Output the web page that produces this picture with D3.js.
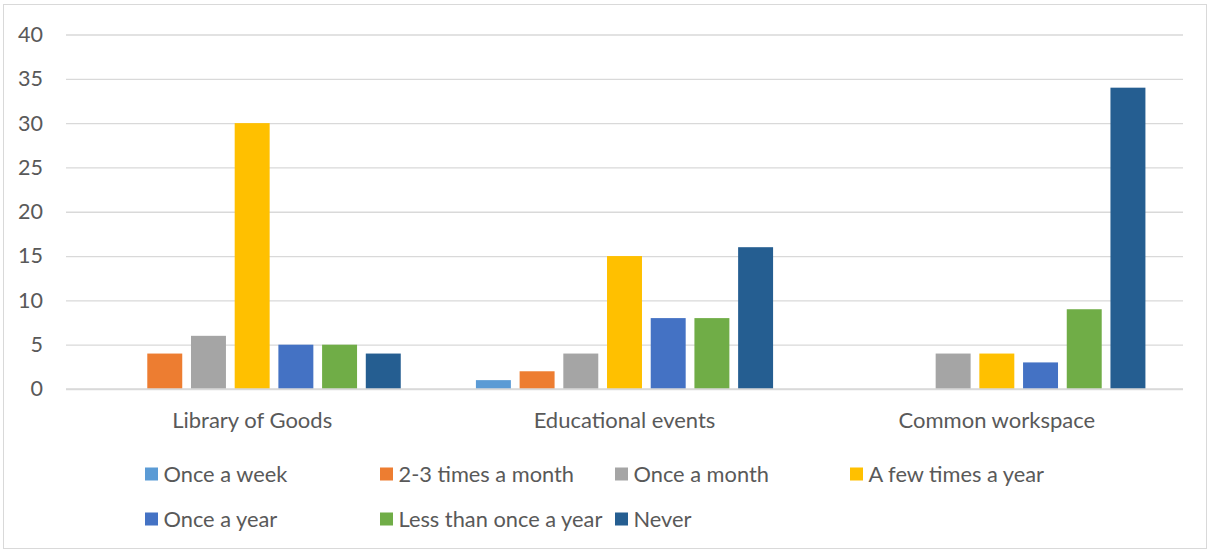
<!DOCTYPE html>
<html>
<head>
<meta charset="utf-8">
<script src="https://cdn.jsdelivr.net/npm/d3@7"></script>
<style>
  html, body { margin: 0; padding: 0; background: #fff; }
  svg { display: block; font-family: Lato, "Noto Sans", sans-serif; }
</style>
</head>
<body>
<svg id="chart" width="1212" height="552"></svg>
<script>
// Usage frequency per service
const categories = ["Library of Goods", "Educational events", "Common workspace"];
const seriesNames = ["Once a week", "2-3 times a month", "Once a month", "A few times a year",
                     "Once a year", "Less than once a year", "Never"];
const onceAWeek        = [0, 1, 0];
const twoThreeMonth    = [4, 2, 0];
const onceAMonth       = [6, 4, 4];
const fewTimesYear     = [30, 15, 4];
const onceAYear        = [5, 8, 3];
const lessThanOnceYear = [5, 8, 9];
const never            = [4, 16, 34];
const seriesValues = [onceAWeek, twoThreeMonth, onceAMonth, fewTimesYear, onceAYear, lessThanOnceYear, never];
const colors = ["#5B9BD5", "#ED7D31", "#A5A5A5", "#FFC000", "#4472C4", "#70AD47", "#255E91"];
const yTicks = [0, 5, 10, 15, 20, 25, 30, 35, 40];

const svg = d3.select("#chart");
const plot = { left: 66, right: 1183, top: 34.5, bottom: 389 };
const textColor = "#595959";
const gridColor = "#D9D9D9";

// chart border
svg.append("rect")
  .attr("x", 3.5).attr("y", 4.5)
  .attr("width", 1203).attr("height", 544)
  .attr("fill", "#fff")
  .attr("stroke", gridColor).attr("stroke-width", 1);

const y = d3.scaleLinear().domain([0, 40]).range([plot.bottom, plot.top]);
const x0 = d3.scaleBand().domain(categories).range([plot.left, plot.right]).padding(0);
const x1 = d3.scaleBand().domain(seriesNames).range([0, x0.bandwidth()])
  .paddingInner(0.2).paddingOuter(0.86);

// gridlines + tick labels
const yAxis = d3.axisLeft(y).tickValues(yTicks).tickSize(-(plot.right - plot.left)).tickPadding(23);
const yg = svg.append("g").attr("transform", `translate(${plot.left},0)`).call(yAxis);
yg.select(".domain").remove();
yg.selectAll(".tick line").attr("stroke", gridColor).attr("stroke-width", 1.3);
yg.selectAll(".tick text")
  .attr("fill", textColor)
  .style("font-size", "21.5px")
  .style("font-family", "Lato, sans-serif");

// bars
const groups = svg.append("g").selectAll("g")
  .data(categories)
  .join("g")
  .attr("transform", d => `translate(${x0(d)},0)`);

groups.selectAll("rect")
  .data((c, ci) => seriesNames.map((s, si) => ({ s, si, v: seriesValues[si][ci] })))
  .join("rect")
  .attr("x", d => x1(d.s))
  .attr("width", x1.bandwidth())
  .attr("y", d => y(d.v))
  .attr("height", d => y(0) - y(d.v))
  .attr("fill", d => colors[d.si]);

// baseline
svg.append("line")
  .attr("x1", plot.left).attr("x2", plot.right)
  .attr("y1", y(0)).attr("y2", y(0))
  .attr("stroke", gridColor).attr("stroke-width", 1.5);

// category axis labels
const xAxis = d3.axisBottom(x0).tickSize(0).tickPadding(23);
const xg = svg.append("g").attr("transform", `translate(0,${plot.bottom})`).call(xAxis);
xg.select(".domain").remove();
xg.selectAll(".tick text")
  .attr("fill", textColor)
  .style("font-size", "22px")
  .style("font-family", "Lato, sans-serif");

// legend: 4 columns, 2 rows
const legendCols = 4, colW = 235, legendX = 145, legendY = [474, 519];
const leg = svg.append("g").selectAll("g")
  .data(seriesNames)
  .join("g")
  .attr("transform", (d, i) => `translate(${legendX + (i % legendCols) * colW},${legendY[Math.floor(i / legendCols)]})`);
leg.append("rect")
  .attr("x", 0).attr("y", -6.5)
  .attr("width", 13).attr("height", 13)
  .attr("fill", (d, i) => colors[i]);
leg.append("text")
  .attr("x", 18.5).attr("y", 0)
  .attr("dy", "0.35em")
  .attr("fill", textColor)
  .style("font-size", "21.8px")
  .text(d => d);
</script>
</body>
</html>
